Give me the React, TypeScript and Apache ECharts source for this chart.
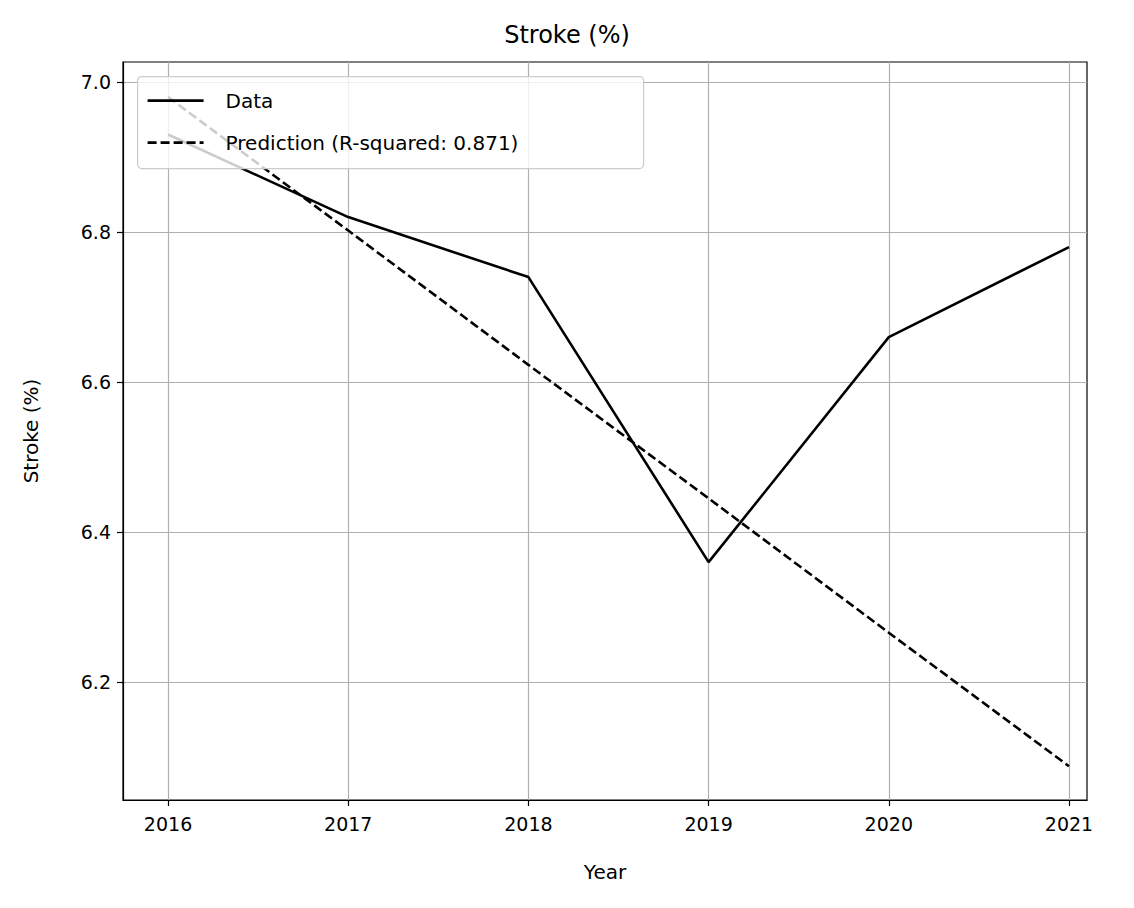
import React, { useEffect, useRef } from 'react';
import * as echarts from 'echarts';

const years = [2016, 2017, 2018, 2019, 2020, 2021];
const strokeData = [6.93, 6.82, 6.74, 6.36, 6.66, 6.78];
const prediction = [6.98, 6.802, 6.623, 6.445, 6.266, 6.088];
const yTicks = [6.2, 6.4, 6.6, 6.8, 7.0];

const FONT = 'DejaVu Sans';

export default function App() {
  const ref = useRef<HTMLDivElement>(null);

  useEffect(() => {
    document.body.style.margin = '0';
    if (!ref.current) return;
    const chart = echarts.init(ref.current, undefined, { renderer: 'svg' });
    const axisCommon = {
      axisLine: { show: true, onZero: false, lineStyle: { color: '#000', width: 1.2 } },
      axisTick: { show: true, length: 6, lineStyle: { color: '#000', width: 1.2 } },
      splitLine: { show: true, lineStyle: { color: '#b0b0b0', width: 1.2 } },
      nameTextStyle: { fontFamily: FONT, fontSize: 20, color: '#000' },
    };
    chart.setOption({
      animation: false,
      backgroundColor: '#fff',
      title: {
        text: 'Stroke (%)',
        left: 'center',
        top: 18,
        textStyle: { fontFamily: FONT, fontSize: 24, fontWeight: 'normal', color: '#000' },
      },
      grid: { left: 123, right: 47, top: 62, bottom: 108, show: true, borderColor: '#000', borderWidth: 1.2 },
      xAxis: {
        type: 'value',
        min: 2015.75,
        max: 2021.1,
        name: 'Year',
        nameLocation: 'middle',
        nameGap: 62,
        ...axisCommon,
        axisTick: { ...axisCommon.axisTick, customValues: years },
        axisLabel: {
          customValues: years,
          alignMinLabel: 'center',
          alignMaxLabel: 'center',
          fontFamily: FONT, fontSize: 19, color: '#000', margin: 14,
          formatter: (v: number) => String(v),
        },
      },
      yAxis: {
        type: 'value',
        min: 6.043,
        max: 7.0267,
        name: 'Stroke (%)',
        nameLocation: 'middle',
        nameGap: 82,
        ...axisCommon,
        axisTick: { ...axisCommon.axisTick, customValues: yTicks },
        axisLabel: {
          customValues: yTicks,
          fontFamily: FONT, fontSize: 19, color: '#000', margin: 12,
          formatter: (v: number) => v.toFixed(1),
        },
      },
      series: [
        {
          type: 'line',
          name: 'Data',
          data: years.map((y, i) => [y, strokeData[i]]),
          showSymbol: false,
          lineStyle: { color: '#000', width: 2.6 },
          z: 3,
        },
        {
          type: 'line',
          name: 'Prediction',
          data: years.map((y, i) => [y, prediction[i]]),
          showSymbol: false,
          lineStyle: { color: '#000', width: 2.6, type: [9, 4] },
          z: 3,
        },
      ],
      graphic: [
        {
          type: 'group',
          left: 137,
          top: 76,
          z: 100,
          children: [
            { type: 'rect', z: 100, shape: { x: 0, y: 0, width: 506, height: 92, r: 4 },
              style: { fill: 'rgba(255,255,255,0.8)', stroke: '#cccccc', lineWidth: 1.2 } },
            { type: 'line', z: 101, shape: { x1: 10, y1: 24, x2: 66, y2: 24 }, style: { stroke: '#000', lineWidth: 2.6 } },
            { type: 'text', z: 101, x: 88, y: 24, style: { text: 'Data', font: `20px "${FONT}"`, fill: '#000', verticalAlign: 'middle' } },
            { type: 'line', z: 101, shape: { x1: 10, y1: 66, x2: 66, y2: 66 }, style: { stroke: '#000', lineWidth: 2.6, lineDash: [9, 4] } },
            { type: 'text', z: 101, x: 88, y: 66, style: { text: 'Prediction (R-squared: 0.871)', font: `20px "${FONT}"`, fill: '#000', verticalAlign: 'middle' } },
          ],
        },
      ],
    });
    return () => chart.dispose();
  }, []);

  return <div ref={ref} style={{ width: 1134, height: 908 }} />;
}
